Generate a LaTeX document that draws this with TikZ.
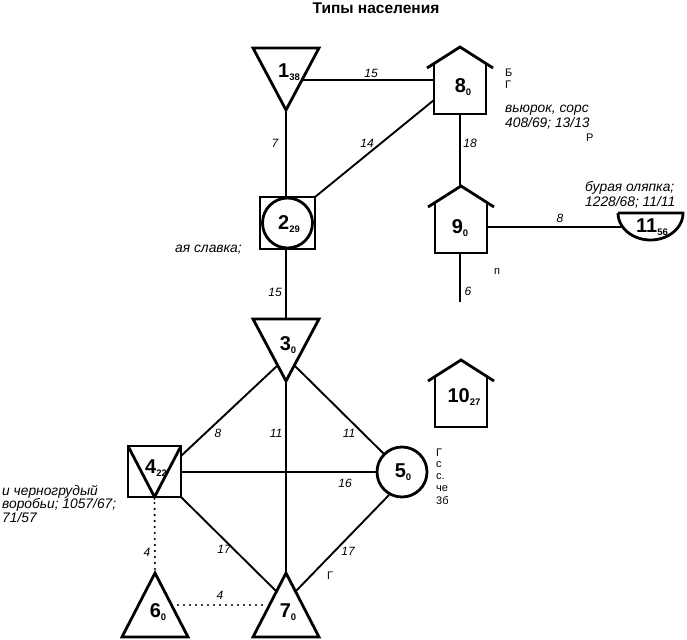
\documentclass[tikz,border=0pt]{standalone}
\usepackage{fontspec}
\setmainfont{Liberation Sans}
\newcommand\nlab[2]{\textbf{#1}\raisebox{-3pt}{\fontsize{9.5}{9.5}\selectfont\bfseries #2}}
\begin{document}
\begin{tikzpicture}[x=1pt,y=-1pt,
  shp/.style={line width=2.8pt, line join=miter, line cap=butt},
  edge/.style={line width=1.9pt},
  dotedge/.style={line width=2.4pt, line cap=round, dash pattern=on 0pt off 6pt},
  lab/.style={inner sep=0pt, font=\fontsize{20}{20}\selectfont},
  elab/.style={inner sep=0pt, font=\fontsize{12}{12}\selectfont\itshape},
  frag/.style={inner sep=0pt, anchor=west, font=\fontsize{13.8}{13.8}\selectfont\itshape},
  lett/.style={inner sep=0pt, anchor=west, font=\fontsize{11}{11}\selectfont},
  house/.pic={\draw[shp] (-33,21) -- (0,0) -- (33,21);
              \draw[shp] (-26,16.5) -- (-26,67) -- (26,67) -- (26,16.5);},
  invtri/.pic={\draw[shp] (-33,0) -- (33,0) -- (0,62) -- cycle;},
  uptri/.pic={\draw[shp] (0,0) -- (33,64) -- (-33,64) -- cycle;}
]
\useasboundingbox (0,0) rectangle (687,639);

% title
\node[inner sep=0pt, font=\fontsize{15.5}{15.5}\selectfont\bfseries] (title) at (376,8) {Типы населения};

% shapes
\pic at (286,48) {invtri};
\pic at (460,47) {house};
\draw[shp] (260,197) rectangle (315,249);
\draw[shp] (287.5,223) circle[radius=25pt];
\pic at (461,186) {house};
\draw[shp] (618,213) -- (683,213) -- plot[domain=0:180, samples=40] ({650.5+32.5*cos(\x)},{213+27*sin(\x)}) -- cycle;
\pic at (461,360) {house};
\pic at (286,319) {invtri};
\draw[shp] (128,446) rectangle (181,497);
\draw[shp] (128,446) -- (154.5,497) -- (181,446);
\draw[shp] (402,472) circle[radius=25pt];
\pic at (155,573) {uptri};
\pic at (286,573) {uptri};

% node labels
\node[lab] (n1) at (289,72) {\nlab{1}{38}};
\node[lab] (n8) at (463,87) {\nlab{8}{0}};
\node[lab] (n2) at (289,224) {\nlab{2}{29}};
\node[lab] (n9) at (460,228) {\nlab{9}{0}};
\node[lab] (n11) at (652,227) {\nlab{11}{56}};
\node[lab] (n10) at (464,397) {\nlab{10}{27}};
\node[lab] (n3) at (288,345) {\nlab{3}{0}};
\node[lab] (n4) at (156,468) {\nlab{4}{22}};
\node[lab] (n5) at (403,472) {\nlab{5}{0}};
\node[lab] (n6) at (158,612) {\nlab{6}{0}};
\node[lab] (n7) at (288,612) {\nlab{7}{0}};

% attachment points
\coordinate (a1r) at (302,80);
\coordinate (a8l) at (434,80);
\coordinate (a1b) at (286,110);
\coordinate (a2t) at (286,197);
\coordinate (a2c) at (315,197);
\coordinate (a8d) at (434,100);
\coordinate (a8b) at (460,114);
\coordinate (a9t) at (460,186);
\coordinate (a9r) at (487,227);
\coordinate (a11l) at (623,227);
\coordinate (a9b) at (460,253);
\coordinate (a9end) at (460,302);
\coordinate (a2b) at (286,249);
\coordinate (a3t) at (286,319);
\coordinate (a3l) at (278,365);
\coordinate (a3r) at (294,365);
\coordinate (a3b) at (286,380);
\coordinate (a4tr) at (181,456);
\coordinate (a4r) at (181,472);
\coordinate (a4br) at (181,497);
\coordinate (a4b) at (154.5,497);
\coordinate (a5ul) at (384,454);
\coordinate (a5l) at (377,472);
\coordinate (a5ll) at (389,495);
\coordinate (a7t) at (286,573);
\coordinate (a7l) at (276,591);
\coordinate (a7r) at (296,591);
\coordinate (a7ld) at (266,605);
\coordinate (a6t) at (155,573);
\coordinate (a6r) at (172,605);

% edges
\draw[edge] (a1r) -- (a8l);
\draw[edge] (a1b) -- (a2t);
\draw[edge] (a2c) -- (a8d);
\draw[edge] (a8b) -- (a9t);
\draw[edge] (a9r) -- (a11l);
\draw[edge] (a9b) -- (a9end);
\draw[edge] (a2b) -- (a3t);
\draw[edge] (a3l) -- (a4tr);
\draw[edge] (a3r) -- (a5ul);
\draw[edge] (a3b) -- (a7t);
\draw[edge] (a4r) -- (a5l);
\draw[edge] (a4br) -- (a7l);
\draw[edge] (a5ll) -- (a7r);
\draw[dotedge] (a4b) -- (a6t);
\draw[dotedge] (a6r) -- (a7ld);

% edge labels
\node[elab] (l1) at (371,73) {15};
\node[elab] (l2) at (275,143) {7};
\node[elab] (l3) at (367,143) {14};
\node[elab] (l4) at (470,143) {18};
\node[elab] (l5) at (275,292) {15};
\node[elab] (l6) at (560,218) {8};
\node[elab] (l7) at (468,291) {6};
\node[elab] (l8) at (218,433) {8};
\node[elab] (l9) at (276,433) {11};
\node[elab] (l10) at (349,433) {11};
\node[elab] (l11) at (345,483) {16};
\node[elab] (l12) at (224,549) {17};
\node[elab] (l13) at (348,551) {17};
\node[elab] (l14) at (147,552) {4};
\node[elab] (l15) at (220,595) {4};

% text fragments
\node[lett] (t1) at (505,73) {Б};
\node[lett] (t2) at (505,85) {Г};
\node[frag] (t3) at (505,110) {вьюрок, сорс};
\node[frag] (t4) at (505,123) {408/69; 13/13};
\node[lett] (t5) at (586,138) {Р};
\node[frag] (t6) at (585,188) {бурая оляпка;};
\node[frag] (t7) at (585,202) {1228/68; 11/11};
\node[frag] (t8) at (175,250) {ая славка;};
\node[frag] (t9) at (2,492) {и черногрудый};
\node[frag] (t10) at (2,505) {воробьи; 1057/67;};
\node[frag] (t11) at (2,518) {71/57};
\node[lett] (t12) at (436,453) {Г};
\node[lett] (t13) at (436,465) {с};
\node[lett] (t14) at (436,477) {с.};
\node[lett] (t15) at (436,489) {че};
\node[lett] (t16) at (436,501) {3б};
\node[lett] (t17) at (327,576) {Г};
\node[lett] (t18) at (494,272) {п};
\end{tikzpicture}
\end{document}
